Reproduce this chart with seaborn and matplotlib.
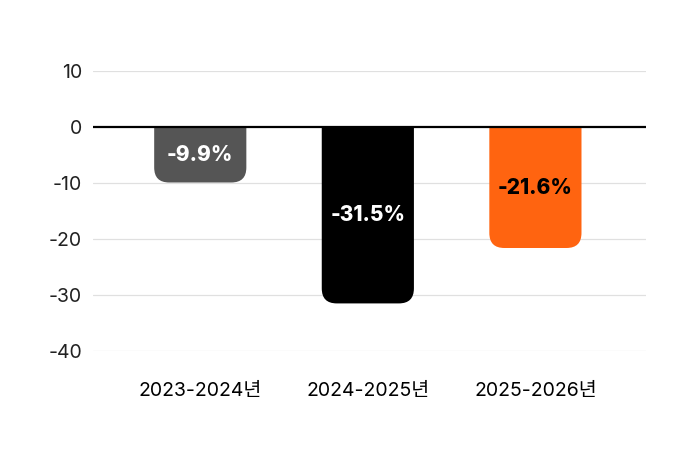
import pandas as pd
import matplotlib.pyplot as plt
import seaborn as sns
from matplotlib.path import Path
from matplotlib.patches import PathPatch

# Données
periodes = ["2023-2024년", "2024-2025년", "2025-2026년"]
variations = [-9.9, -31.5, -21.6]
couleurs = ["#555555", "#000000", "#FF6410"]
couleurs_texte = ["white", "white", "black"]
y_ticks = [10, 0, -10, -20, -30, -40]

sns.set_style("white")
plt.rcParams['font.family'] = ['Inter', 'Noto Sans CJK KR', 'DejaVu Sans']

df = pd.DataFrame({"periode": periodes, "variation": variations})

fig = plt.figure(figsize=(6.89, 4.5), dpi=100)
ax = fig.add_axes([0.135, 0.22, 0.8026, 0.622])

sns.barplot(data=df, x="periode", y="variation", hue="periode",
            palette=couleurs, legend=False, width=0.55, ax=ax)

ax.set_xlim(-0.64, 2.66)
ax.set_ylim(-40, 10)
ax.set_yticks(y_ticks)
ax.set_yticklabels([str(t) for t in y_ticks])

# grille
for t in y_ticks:
    if t != 0:
        ax.axhline(t, color="#e0e0e0", lw=0.9, zorder=0)
ax.axhline(0, color="black", lw=1.6, zorder=5)

# barres arrondies en bas (rayon en pixels converti en unités de données)
fig.canvas.draw()
p0 = ax.transData.transform((0, 0))
p1 = ax.transData.transform((1, 1))
px_x = p1[0] - p0[0]
px_y = p1[1] - p0[1]
r_px = 15
rx = r_px / px_x
ry = r_px / px_y


def bar_arrondie(x, w, y_bas, couleur):
    verts = [
        (x, 0), (x, y_bas + ry), (x, y_bas), (x + rx, y_bas),
        (x + w - rx, y_bas), (x + w, y_bas), (x + w, y_bas + ry),
        (x + w, 0), (x, 0),
    ]
    codes = [
        Path.MOVETO, Path.LINETO, Path.CURVE3, Path.CURVE3,
        Path.LINETO, Path.CURVE3, Path.CURVE3,
        Path.LINETO, Path.CLOSEPOLY,
    ]
    return PathPatch(Path(verts, codes), facecolor=couleur, edgecolor="none", zorder=3)


for p, c in zip(ax.patches, couleurs):
    x, y, w, h = p.get_x(), p.get_y(), p.get_width(), p.get_height()
    p.set_visible(False)
    ax.add_patch(bar_arrondie(x, w, min(y, y + h), c))

# étiquettes
for i, (v, ct) in enumerate(zip(variations, couleurs_texte)):
    ax.text(i, v / 2, f"{v:.1f}%", ha="center", va="center",
            color=ct, fontsize=15, fontweight=800, zorder=6)

ax.set_xlabel("")
ax.set_ylabel("")
ax.tick_params(axis="y", labelsize=14, length=0, pad=8, labelcolor="#222222")
ax.tick_params(axis="x", labelsize=14, length=0, pad=22, labelcolor="#000000")
sns.despine(ax=ax, left=True, bottom=True)

fig.savefig("out.png", dpi=100)
